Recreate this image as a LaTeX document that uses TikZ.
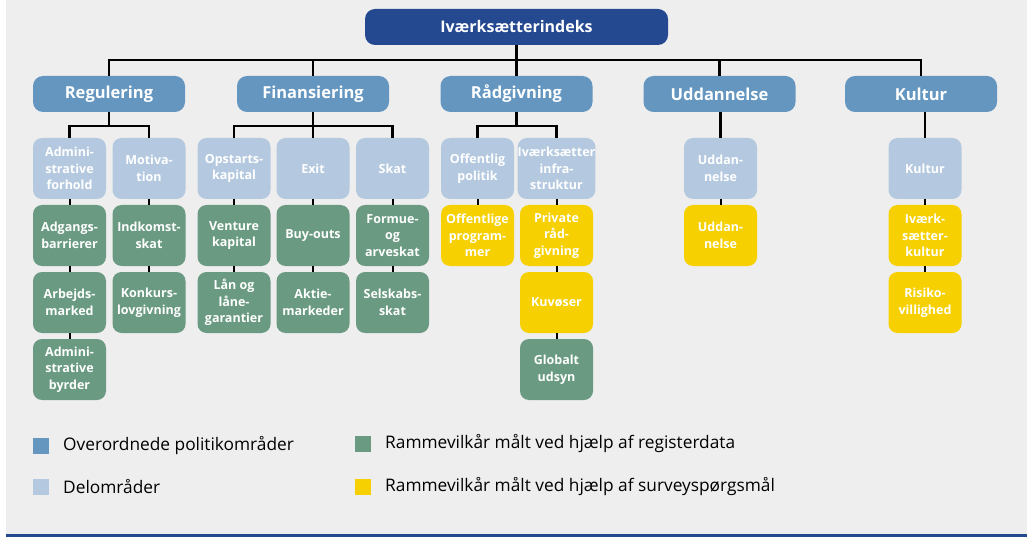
\documentclass[tikz,border=0pt]{standalone}
\usepackage{fontspec}
\setmainfont{Open Sans}
\definecolor{bgGrey}{RGB}{238,238,238}
\definecolor{topBlue}{RGB}{36,73,145}
\definecolor{midBlue}{RGB}{100,150,192}
\definecolor{paleBlue}{RGB}{180,201,223}
\definecolor{regGreen}{RGB}{106,155,130}
\definecolor{survYellow}{RGB}{246,208,0}
\tikzset{
  box/.style={rounded corners=9pt, inner sep=0pt, align=center, text=white,
    minimum width=73pt, minimum height=61pt,
    font=\bfseries\fontsize{12.5}{16.7}\selectfont},
  subarea/.style={box, fill=paleBlue},
  reg/.style={box, fill=regGreen},
  surv/.style={box, fill=survYellow},
  area/.style={rounded corners=10pt, inner sep=0pt, text=white, fill=midBlue,
    minimum width=152pt, minimum height=36pt,
    font=\bfseries\fontsize{16.5}{20}\selectfont},
  rootbox/.style={rounded corners=10pt, inner sep=0pt, text=white, fill=topBlue,
    minimum width=303pt, minimum height=36pt,
    font=\bfseries\fontsize{16}{20}\selectfont},
  link/.style={draw=black, line width=2.3pt},
  swatch/.style={inner sep=0pt, minimum size=16pt},
  legtext/.style={anchor=west, inner sep=0pt, font=\fontsize{17.3}{21}\selectfont, text=black}
}
\begin{document}
\begin{tikzpicture}[x=1pt, y=-1pt]
\useasboundingbox (0,0) rectangle (1027,537);
\fill[bgGrey] (6,0) rectangle (1027,534);
\fill[topBlue] (6,534) rectangle (1027,537);

% root and policy areas
\node[rootbox] (root) at (516.5,27) {Iværksætterindeks};
\node[area] (A) at (109,94) {Regulering};
\node[area] (B) at (313,94) {Finansiering};
\node[area] (C) at (516.5,94) {Rådgivning};
\node[area] (D) at (719.5,94) {Uddannelse};
\node[area] (E) at (921,94) {Kultur};

% sub-areas
\node[subarea] (a1) at (69.5,168.5) {Admini-\\strative\\forhold};
\node[subarea] (a2) at (149,168.5) {Motiva-\\tion};
\node[subarea] (b1) at (234,168.5) {Opstarts-\\kapital};
\node[subarea] (b2) at (313,168.5) {Exit};
\node[subarea] (b3) at (392.5,168.5) {Skat};
\node[subarea] (c1) at (477.5,168.5) {Offentlig\\politik};
\node[subarea] (c2) at (556.5,168.5) {Iværksætter\\infra-\\struktur};
\node[subarea] (d1) at (720.5,168.5) {Uddan-\\nelse};
\node[subarea] (e1) at (925,168.5) {Kultur};

% framework conditions, first row
\node[reg]  (a11) at (69.5,235.5) {Adgangs-\\barrierer};
\node[reg]  (a21) at (149,235.5) {Indkomst-\\skat};
\node[reg]  (b11) at (234,235.5) {Venture\\kapital};
\node[reg]  (b21) at (313,235.5) {Buy-outs};
\node[reg]  (b31) at (392.5,235.5) {Formue-\\og\\arveskat};
\node[surv] (c11) at (477.5,235.5) {Offentlige\\program-\\mer};
\node[surv] (c21) at (556.5,235.5) {Private\\råd-\\givning};
\node[surv] (d11) at (720.5,235.5) {Uddan-\\nelse};
\node[surv] (e11) at (925,235.5) {Iværk-\\sætter-\\kultur};

% second row
\node[reg]  (a12) at (69.5,302.5) {Arbejds-\\marked};
\node[reg]  (a22) at (149,302.5) {Konkurs-\\lovgivning};
\node[reg]  (b12) at (234,302.5) {Lån og\\låne-\\garantier};
\node[reg]  (b22) at (313,302.5) {Aktie-\\markeder};
\node[reg]  (b32) at (392.5,302.5) {Selskabs-\\skat};
\node[surv] (c22) at (556.5,302.5) {Kuvøser};
\node[surv] (e12) at (925,302.5) {Risiko-\\villighed};

% third row
\node[reg]  (a13) at (69.5,369.5) {Admini-\\strative\\byrder};
\node[reg]  (c23) at (556.5,369.5) {Globalt\\udsyn};

% root to policy areas
\coordinate (rj) at (516.5,60);
\draw[link] (root.south) -- (rj);
\draw[link] (A.north) |- (rj) -| (E.north);
\foreach \n in {B,C,D} \draw[link] (\n.north) -- (\n.north |- rj);

% policy areas to sub-areas (bus line 14pt below each area box)
\foreach \p/\l/\r in {A/a1/a2, B/b1/b3, C/c1/c2} {
  \draw[link] (\p.south) -- ++(0,14);
  \draw[link] (\l.north) |- ([yshift=-14pt]\p.south) -| (\r.north);
}
\draw[link] (b2.north) -- (B.south);
\draw[link] (d1.north) -- (d1.north |- D.south);
\draw[link] (e1.north) -- (e1.north |- E.south);

% stacked chains
\foreach \u/\v in {a1/a11, a11/a12, a12/a13, a2/a21, a21/a22,
                   b1/b11, b11/b12, b2/b21, b21/b22, b3/b31, b31/b32,
                   c1/c11, c2/c21, c21/c22, c22/c23,
                   d1/d11, e1/e11, e11/e12}
  \draw[link, line width=2pt] (\u.south) -- (\v.north);

% legend
\node[swatch, fill=midBlue]    (s1) at (41,446) {};
\node[swatch, fill=paleBlue]   (s2) at (41,487) {};
\node[swatch, fill=regGreen]   (s3) at (363,444) {};
\node[swatch, fill=survYellow] (s4) at (363,487) {};
\node[legtext] (l1) at (63,446) {Overordnede politikområder};
\node[legtext] (l2) at (63,487) {Delområder};
\node[legtext] (l3) at (385,444) {Rammevilkår målt ved hjælp af registerdata};
\node[legtext] (l4) at (385,487) {Rammevilkår målt ved hjælp af surveyspørgsmål};
\end{tikzpicture}
\end{document}
